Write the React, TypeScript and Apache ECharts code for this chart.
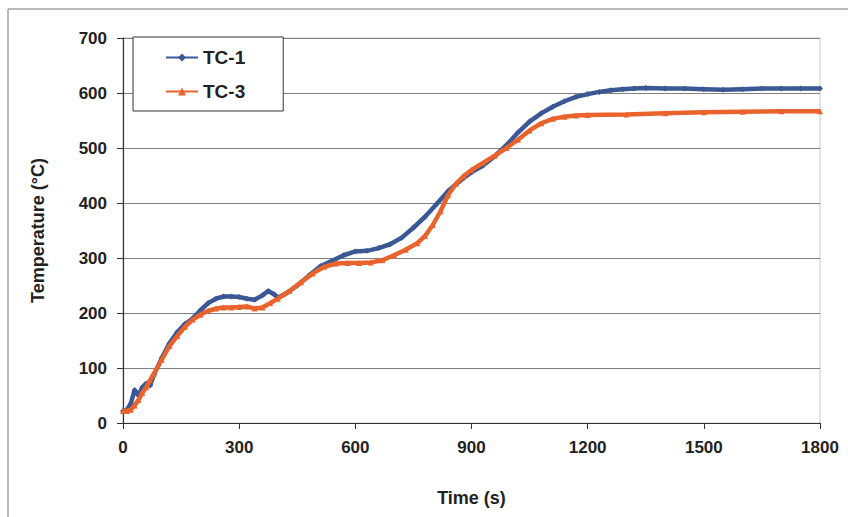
import React, { useEffect, useRef } from "react";
import * as echarts from "echarts";

const tc1Time = [0, 10, 20, 30, 40, 50, 60, 70, 80, 100, 120, 140, 160, 180, 200, 220, 240, 260, 280, 300, 320, 340, 360, 375, 390, 400, 420, 450, 480, 510, 540, 570, 600, 630, 660, 690, 720, 750, 780, 810, 840, 870, 900, 930, 960, 990, 1020, 1050, 1080, 1110, 1140, 1170, 1200, 1230, 1260, 1290, 1320, 1350, 1400, 1450, 1500, 1550, 1600, 1650, 1700, 1750, 1800];
const tc1Temp = [22, 24, 35, 60, 50, 65, 72, 68, 88, 118, 145, 165, 180, 190, 205, 218, 226, 230, 230, 229, 226, 224, 232, 240, 234, 228, 235, 250, 268, 285, 295, 305, 312, 313, 318, 325, 337, 355, 375, 398, 422, 440, 456, 468, 485, 505, 528, 548, 563, 575, 585, 593, 598, 602, 605, 607, 608, 609, 608, 608, 607, 606, 607, 608, 608, 608, 608];

const tc3Time = [0, 10, 20, 30, 40, 50, 60, 70, 80, 100, 120, 140, 160, 180, 200, 220, 240, 260, 280, 300, 320, 340, 360, 380, 400, 430, 460, 490, 520, 550, 580, 610, 640, 670, 700, 730, 760, 780, 800, 820, 840, 860, 880, 900, 930, 960, 990, 1020, 1050, 1080, 1110, 1140, 1170, 1200, 1300, 1400, 1500, 1600, 1700, 1800];
const tc3Temp = [22, 22, 24, 32, 42, 55, 65, 78, 90, 115, 140, 158, 175, 188, 197, 204, 208, 210, 210, 211, 212, 208, 210, 218, 226, 240, 256, 272, 284, 290, 291, 291, 292, 296, 305, 315, 327, 340, 360, 385, 415, 435, 449, 460, 473, 486, 500, 515, 532, 545, 553, 557, 559, 560, 561, 563, 565, 566, 567, 567];

const seriesNames = ["TC-1", "TC-3"];
const font = "Liberation Sans, Arial, sans-serif";

export default function App() {
  const ref = useRef<HTMLDivElement>(null);
  useEffect(() => {
    if (!ref.current) return;
    const chart = echarts.init(ref.current, undefined, { renderer: "svg" });
    chart.setOption({
      animation: false,
      backgroundColor: "#ffffff",
      graphic: [
        {
          type: "rect",
          shape: { x: 8, y: 9, width: 900, height: 600 },
          style: { fill: "none", stroke: "#777", lineWidth: 1 },
          silent: true,
        },
      ],
      grid: {
        left: 123,
        right: 28,
        top: 38,
        bottom: 94,
        show: true,
        borderColor: "#c8c8c8",
        borderWidth: 1,
        backgroundColor: "transparent",
      },
      legend: {
        orient: "vertical",
        left: 133,
        top: 37,
        padding: [11, 38, 10, 32],
        itemGap: 15,
        itemWidth: 32,
        itemHeight: 10,
        borderColor: "#333",
        borderWidth: 1,
        backgroundColor: "#fff",
        textStyle: { fontFamily: font, fontWeight: "bold", fontSize: 19, color: "#222" },
        data: seriesNames,
      },
      xAxis: {
        type: "value",
        min: 0,
        max: 1800,
        interval: 300,
        name: "Time (s)",
        nameLocation: "middle",
        nameGap: 66,
        nameTextStyle: { fontFamily: font, fontWeight: "bold", fontSize: 18, color: "#222" },
        axisLine: { show: true, lineStyle: { color: "#333", width: 1.2 } },
        axisTick: { show: true, length: 6, lineStyle: { color: "#333" } },
        axisLabel: {
          margin: 16,
          fontFamily: font,
          fontWeight: "bold",
          fontSize: 17,
          color: "#222",
          formatter: (v: number) => String(v),
        },
        splitLine: { show: false },
      },
      yAxis: {
        type: "value",
        min: 0,
        max: 700,
        interval: 100,
        name: "Temperature (°C)",
        nameLocation: "middle",
        nameGap: 76,
        nameRotate: 90,
        nameTextStyle: { fontFamily: font, fontWeight: "bold", fontSize: 18, color: "#222" },
        axisLine: { show: true, lineStyle: { color: "#333", width: 1.2 } },
        axisTick: { show: true, length: 6, lineStyle: { color: "#333" } },
        axisLabel: { margin: 16, fontFamily: font, fontWeight: "bold", fontSize: 17, color: "#222" },
        splitLine: { show: true, lineStyle: { color: "#808080", width: 1 } },
      },
      series: [
        {
          name: seriesNames[0],
          type: "line",
          data: tc1Time.map((t, i) => [t, tc1Temp[i]]),
          symbol: "diamond",
          symbolSize: 6,
          showSymbol: true,
          lineStyle: { color: "#3a5894", width: 4.5 },
          itemStyle: { color: "#3a5894" },
          z: 3,
        },
        {
          name: seriesNames[1],
          type: "line",
          data: tc3Time.map((t, i) => [t, tc3Temp[i]]),
          symbol: "triangle",
          symbolSize: 6,
          showSymbol: true,
          lineStyle: { color: "#e9632c", width: 4.5 },
          itemStyle: { color: "#e9632c" },
          z: 4,
        },
      ],
    });
    return () => chart.dispose();
  }, []);
  return <div ref={ref} style={{ width: 848, height: 517, position: "absolute", left: 0, top: 0 }} />;
}
